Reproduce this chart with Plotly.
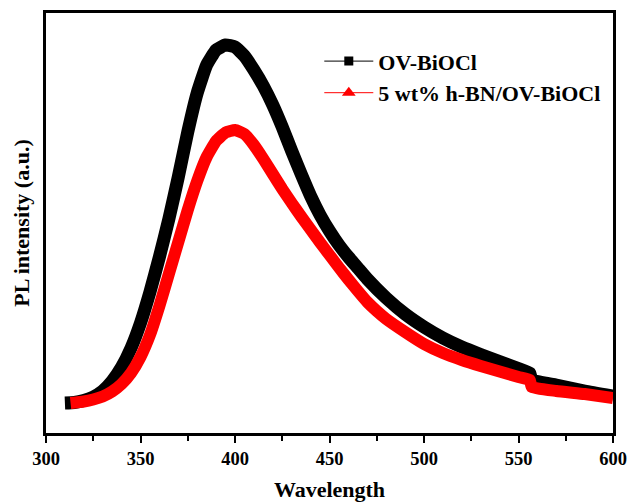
import plotly.graph_objects as go

# PL emission spectra (wavelength in nm, intensity in a.u.)
wl_ov = [310, 315, 320, 325, 330, 335, 340, 345, 350, 355, 360, 365, 370, 375, 380,
         385, 390, 395, 400, 405, 410, 415, 420, 425, 430, 435, 440, 445, 450, 455,
         460, 465, 470, 480, 490, 500, 510, 520, 530, 540, 550, 556, 557, 570, 585, 600]
pl_ov = [300, 305, 325, 360, 420, 520, 660, 850, 1100, 1410, 1760, 2140, 2560, 3010, 3400,
         3680, 3830, 3880, 3860, 3770, 3630, 3470, 3280, 3060, 2820, 2590, 2370, 2180, 2020, 1880,
         1760, 1650, 1540, 1350, 1190, 1060, 950, 860, 785, 715, 645, 600, 530, 480, 420, 370]

wl_bn = [313, 320, 325, 330, 335, 340, 345, 350, 355, 360, 365, 370, 375, 380, 385,
         390, 395, 400, 405, 410, 415, 420, 425, 430, 435, 440, 445, 450, 455, 460,
         465, 470, 475, 480, 490, 500, 510, 520, 530, 540, 550, 556, 557, 570, 585, 600]
pl_bn = [300, 315, 335, 365, 415, 490, 600, 760, 980, 1270, 1590, 1910, 2230, 2520, 2760,
         2920, 3005, 3030, 2990, 2880, 2740, 2590, 2440, 2300, 2165, 2035, 1905, 1780, 1655, 1535,
         1420, 1310, 1220, 1140, 1010, 890, 800, 730, 670, 615, 560, 530, 460, 420, 390, 350]

names = ["OV-BiOCl", "5 wt% h-BN/OV-BiOCl"]
colors = ["#000000", "#ff0000"]
symbols = ["square", "triangle-up"]
x_ticks = [300, 350, 400, 450, 500, 550, 600]

FONT = "Liberation Serif"

fig = go.Figure()

# thick spectral curves
for wl, pl, c, w in [(wl_ov, pl_ov, colors[0], 13), (wl_bn, pl_bn, colors[1], 12)]:
    fig.add_trace(go.Scatter(
        x=wl, y=pl, mode="lines", showlegend=False,
        line=dict(color=c, width=w, shape="spline", smoothing=0.4),
    ))

# legend entries: thin line with symbol
for i, (n, c, s) in enumerate(zip(names, colors, symbols)):
    fig.add_trace(go.Scatter(
        x=[None], y=[None], mode="lines+markers", name=n, legendgroup=f"g{i}",
        line=dict(color=c, width=1),
        marker=dict(color=c, symbol=s, size=9 if s == "square" else 12),
    ))

fig.update_layout(
    width=629, height=502,
    margin=dict(l=46, r=16, t=13, b=69),
    paper_bgcolor="white", plot_bgcolor="white",
    font=dict(family=FONT, color="black"),
    legend=dict(
        x=0.482, y=0.935, xanchor="left", yanchor="top",
        bgcolor="rgba(0,0,0,0)", borderwidth=0,
        font=dict(family=FONT, size=22, weight="bold", color="black"),
        itemwidth=49, tracegroupgap=0,
    ),
    xaxis=dict(
        range=[300, 600], tickvals=x_ticks, automargin=False,
        ticks="outside", ticklen=7, tickwidth=2, tickcolor="black",
        minor=dict(ticks="outside", ticklen=5, tickwidth=2, tickcolor="black", dtick=25),
        showline=True, linewidth=2.5, linecolor="black", mirror=True,
        showgrid=False, zeroline=False,
        tickfont=dict(family=FONT, size=18.5, weight="bold", color="black"),
        title=dict(text="Wavelength", standoff=16,
                   font=dict(family=FONT, size=22, weight="bold", color="black")),
    ),
    yaxis=dict(
        range=[0, 4200], showticklabels=False, ticks="", automargin=False,
        showline=True, linewidth=2.5, linecolor="black", mirror=True,
        showgrid=False, zeroline=False,
        title=dict(text="PL intensity (a.u.)", standoff=8,
                   font=dict(family=FONT, size=22, weight="bold", color="black")),
    ),
)

fig.write_html("out.html")
